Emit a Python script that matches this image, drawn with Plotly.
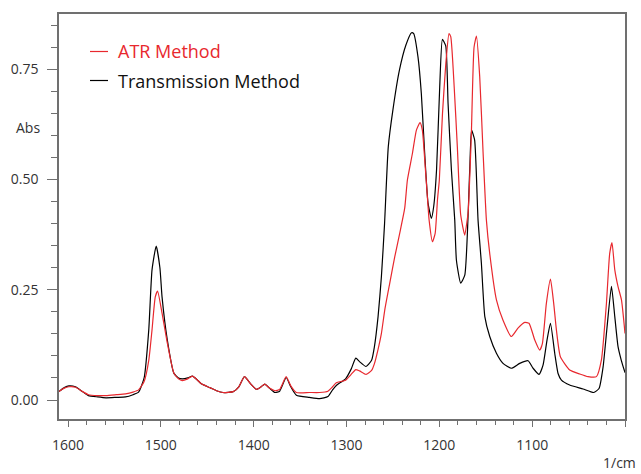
import plotly.graph_objects as go

# Wavenumber (1/cm) and absorbance, Transmission Method
trans_wn = [1610, 1604, 1599, 1592, 1585, 1578, 1568, 1559, 1548, 1538, 1530, 1524, 1518, 1513, 1509.5,
            1505, 1501, 1498.7, 1493, 1486, 1481, 1477, 1471, 1466, 1461, 1456, 1447, 1440, 1433, 1422,
            1416, 1410, 1403, 1397, 1392, 1388, 1383, 1377, 1372, 1365, 1360, 1354, 1340, 1329, 1320,
            1315, 1311, 1301, 1295, 1290, 1286, 1279, 1273, 1270, 1266, 1262.4, 1259, 1255, 1250, 1243,
            1236, 1230, 1227.6, 1223, 1219.4, 1215.8, 1212.2, 1208.6, 1206, 1203, 1199.6, 1196.7, 1193.1,
            1190.6, 1187, 1183.4, 1181.6, 1177, 1172.6, 1167.3, 1165.3, 1162, 1158.3, 1154.7, 1151,
            1145.7, 1138.5, 1131.4, 1122.4, 1113.4, 1104.4, 1099, 1092.6, 1088.3, 1084, 1080.3, 1075.7,
            1072.1, 1068.5, 1059.6, 1045.2, 1033.7, 1028, 1023.6, 1019.3, 1014.6, 1011, 1007.5, 1004, 1000]
trans_abs = [0.019, 0.028, 0.032, 0.030, 0.020, 0.010, 0.007, 0.005, 0.006, 0.007, 0.012, 0.018, 0.050, 0.159, 0.295,
             0.349, 0.300, 0.234, 0.136, 0.061, 0.050, 0.048, 0.050, 0.054, 0.046, 0.036, 0.028, 0.021, 0.017, 0.019,
             0.030, 0.053, 0.036, 0.024, 0.030, 0.036, 0.027, 0.017, 0.020, 0.051, 0.030, 0.011, 0.006, 0.003, 0.008,
             0.023, 0.033, 0.048, 0.070, 0.095, 0.087, 0.076, 0.090, 0.120, 0.189, 0.280, 0.400, 0.574, 0.658, 0.748,
             0.805, 0.833, 0.831, 0.778, 0.695, 0.560, 0.447, 0.412, 0.440, 0.522, 0.710, 0.818, 0.803,
             0.673, 0.522, 0.408, 0.317, 0.265, 0.283, 0.520, 0.612, 0.590, 0.408, 0.310, 0.189,
             0.144, 0.106, 0.083, 0.072, 0.083, 0.089, 0.072, 0.058, 0.079, 0.136, 0.174, 0.106,
             0.060, 0.045, 0.034, 0.025, 0.017, 0.026, 0.075, 0.166, 0.258, 0.189, 0.121, 0.090, 0.062]

# Wavenumber (1/cm) and absorbance, ATR Method
atr_wn = [1610, 1604, 1599, 1592, 1585, 1578, 1568, 1559, 1548, 1538, 1530, 1524, 1518, 1513, 1509.5,
          1506, 1503.5, 1498.7, 1493, 1486, 1481, 1477, 1471, 1466, 1461, 1456, 1447, 1440, 1433, 1422,
          1416, 1410, 1403, 1397, 1392, 1388, 1383, 1377, 1372, 1365, 1360, 1354, 1340, 1329, 1320,
          1315, 1311, 1301, 1295, 1290, 1286, 1279, 1273, 1270, 1266, 1262.4, 1258.8, 1253.4, 1248, 1242.7,
          1237.3, 1234.4, 1229, 1224.7, 1220.8, 1218.3, 1215.7, 1212.9, 1211, 1207.4, 1204.5, 1202, 1200,
          1196.6, 1193, 1189.6, 1187.7, 1184, 1180.6, 1177, 1172.6, 1170, 1169, 1165.6, 1162.6, 1160,
          1156.5, 1153, 1149.3, 1145.7, 1138.5, 1131.4, 1122.4, 1115.3, 1108, 1103.4, 1097.2, 1091.9,
          1089, 1084.7, 1080.3, 1076.8, 1073.9, 1069.6, 1059.6, 1048.8, 1039.8, 1030.8, 1025.4, 1020,
          1016.5, 1014, 1011, 1007.5, 1003.8, 1000]
atr_abs = [0.019, 0.027, 0.030, 0.029, 0.020, 0.012, 0.010, 0.010, 0.012, 0.014, 0.018, 0.023, 0.042, 0.090, 0.159,
           0.234, 0.247, 0.197, 0.129, 0.061, 0.048, 0.044, 0.048, 0.054, 0.046, 0.036, 0.028, 0.021, 0.017, 0.019,
           0.030, 0.053, 0.036, 0.024, 0.030, 0.036, 0.027, 0.021, 0.024, 0.053, 0.032, 0.017, 0.017, 0.017, 0.020,
           0.030, 0.039, 0.045, 0.058, 0.069, 0.066, 0.058, 0.067, 0.082, 0.115, 0.151, 0.204, 0.265, 0.325, 0.378,
           0.435, 0.499, 0.559, 0.612, 0.629, 0.612, 0.544, 0.461, 0.408, 0.359, 0.378, 0.454, 0.499,
           0.650, 0.763, 0.831, 0.824, 0.710, 0.574, 0.420, 0.374, 0.408, 0.424, 0.597, 0.800, 0.825,
           0.733, 0.567, 0.408, 0.332, 0.227, 0.181, 0.144, 0.163, 0.176, 0.174, 0.136, 0.113,
           0.128, 0.219, 0.274, 0.219, 0.159, 0.098, 0.068, 0.059, 0.053, 0.053, 0.091, 0.219,
           0.332, 0.357, 0.295, 0.257, 0.227, 0.151]

series_names = ["ATR Method", "Transmission Method"]
x_ticks = [1600, 1500, 1400, 1300, 1200, 1100, 1000]
y_ticks = [0.0, 0.25, 0.5, 0.75]

RED = "#e8282e"
AXC = "#707070"
TXT = "#333333"
FONT = "Open Sans"

fig = go.Figure()
fig.add_trace(go.Scatter(x=trans_wn, y=trans_abs, mode="lines", name=series_names[1],
                         line=dict(color="#000000", width=1.2, shape="spline", smoothing=0.5),
                         showlegend=False))
fig.add_trace(go.Scatter(x=atr_wn, y=atr_abs, mode="lines", name=series_names[0],
                         line=dict(color=RED, width=1.2, shape="spline", smoothing=0.5),
                         showlegend=False))

W, H = 641, 474
ml, mr, mt, mb = 59, 16, 14, 55
pw, ph = W - ml - mr, H - mt - mb

def px(x):
    return (x - ml) / pw

def py(y):
    return (H - mb - y) / ph

fig.update_layout(
    width=W, height=H,
    margin=dict(l=ml, r=mr, t=mt, b=mb, pad=0),
    paper_bgcolor="white", plot_bgcolor="white",
    font=dict(family=FONT, size=14, color=TXT),
    xaxis=dict(range=[1609.7, 1000], tickvals=x_ticks, ticktext=[str(v) for v in x_ticks],
               showgrid=False, zeroline=False, showline=True, linecolor=AXC, linewidth=1.5,
               mirror=True, ticks="outside", ticklen=6, tickwidth=1.2, tickcolor=AXC,
               ticklabelstandoff=6,
               minor=dict(dtick=20, tick0=1000, ticks="outside", ticklen=4, tickwidth=1.2, tickcolor=AXC),
               tickfont=dict(family=FONT, size=14, color=TXT)),
    yaxis=dict(range=[-0.0431, 0.8754], tickvals=y_ticks, ticktext=["%.2f" % v for v in y_ticks],
               showgrid=False, zeroline=False, showline=True, linecolor=AXC, linewidth=1.5,
               mirror=True, ticks="outside", ticklen=10, tickwidth=1.2, tickcolor=AXC,
               ticklabelstandoff=6,
               minor=dict(dtick=0.05, tick0=0, ticks="outside", ticklen=6, tickwidth=1.2, tickcolor=AXC),
               tickfont=dict(family=FONT, size=14, color=TXT)),
)

# axis titles
fig.add_annotation(text="Abs", xref="paper", yref="paper", x=px(28), y=py(128),
                   xanchor="center", yanchor="middle", showarrow=False,
                   font=dict(family=FONT, size=14, color=TXT))
fig.add_annotation(text="1/cm", xref="paper", yref="paper", x=px(638), y=py(462),
                   xanchor="right", yanchor="middle", showarrow=False,
                   font=dict(family=FONT, size=14, color=TXT))

# legend
leg = [(series_names[0], RED, RED, 51.5), (series_names[1], "#000000", "#111111", 80.5)]
for name, lc, tc, yy in leg:
    fig.add_shape(type="line", xref="paper", yref="paper", x0=px(90), x1=px(108), y0=py(yy), y1=py(yy),
                  line=dict(color=lc, width=1.2))
    fig.add_annotation(text=name, xref="paper", yref="paper", x=px(116), y=py(yy),
                       xanchor="left", yanchor="middle", showarrow=False,
                       font=dict(family=FONT, size=18, color=tc))

fig.write_html("out.html")
